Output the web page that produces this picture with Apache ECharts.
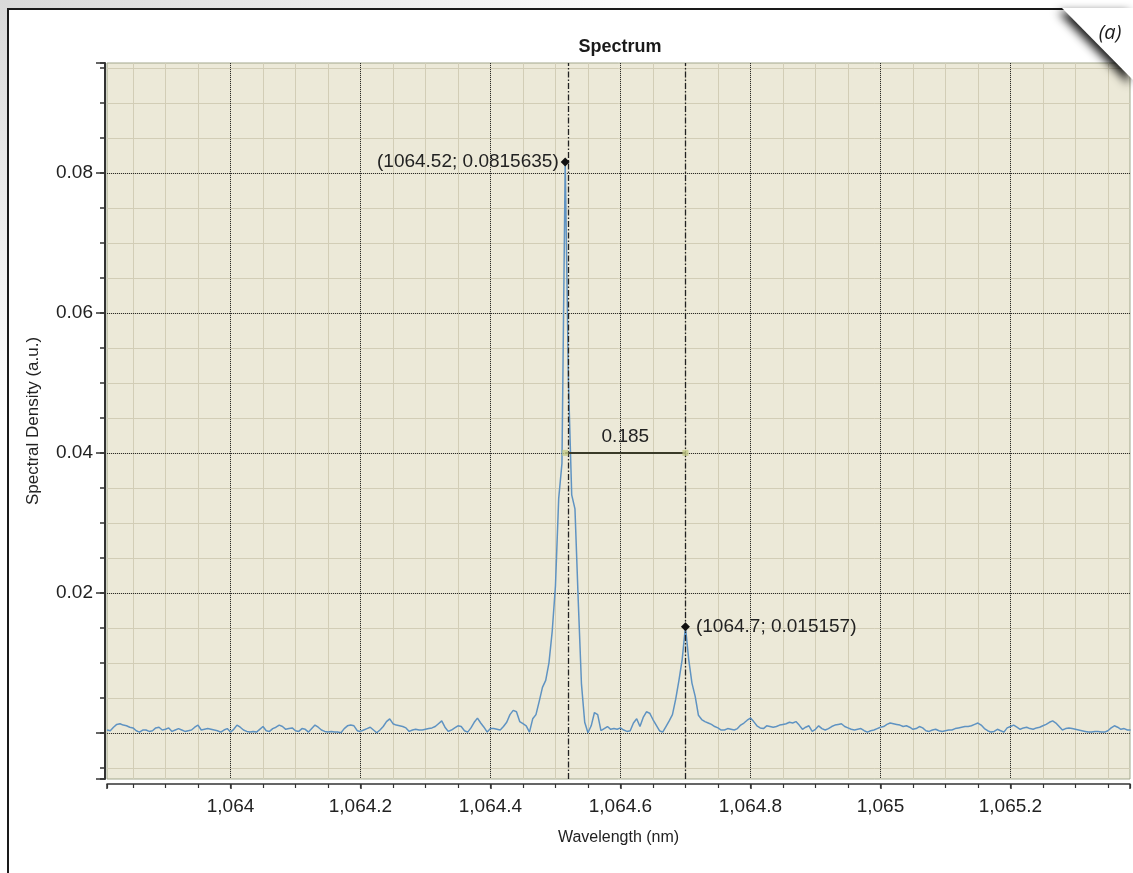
<!DOCTYPE html>
<html><head><meta charset="utf-8">
<script src="https://cdn.jsdelivr.net/npm/echarts@6/dist/echarts.min.js"></script>
<style>html,body{margin:0;padding:0;background:#fff}#c{width:1133px;height:873px}</style>
</head><body><div id="c"></div><script>
// ---- data ----
const wavelengthStart = 1063.81;   // nm, first sample
const wavelengthStep = 0.005;      // nm, sampling step of the spectrometer
const spectralDensity = [
0.0004,0.0003,0.0008,0.0012,0.0013,0.0011,0.0010,0.0008,0.0007,0.0003,
0.0001,0.0004,0.0004,0.0002,0.0003,0.0007,0.0008,0.0004,0.0005,0.0007,
0.0002,0.0004,0.0006,0.0004,0.0002,0.0003,0.0004,0.0008,0.0011,0.0004,
0.0005,0.0006,0.0005,0.0004,0.0003,0.0001,0.0004,0.0006,0.0001,0.0005,
0.0011,0.0008,0.0004,0.0002,0.0001,0.0002,0.0001,0.0005,0.0009,0.0003,
0.0002,0.0006,0.0008,0.0011,0.0009,0.0005,0.0006,0.0007,0.0003,0.0002,
0.0006,0.0005,0.0001,0.0006,0.0011,0.0008,0.0004,0.0002,0.0001,0.0002,
0.0001,0.0001,0.0000,0.0006,0.0010,0.0011,0.0010,0.0003,0.0002,0.0004,
0.0006,0.0008,0.0004,0.0000,0.0004,0.0009,0.0016,0.0020,0.0013,0.0011,
0.0010,0.0009,0.0007,0.0002,0.0004,0.0005,0.0004,0.0004,0.0005,0.0006,
0.0007,0.0009,0.0013,0.0017,0.0008,0.0002,0.0004,0.0007,0.0010,0.0009,
0.0003,0.0001,0.0007,0.0015,0.0021,0.0014,0.0008,0.0001,0.0006,0.0006,
0.0005,0.0004,0.0009,0.0015,0.0026,0.0032,0.0030,0.0016,0.0013,0.0010,
0.0001,0.0020,0.0026,0.0045,0.0065,0.0075,0.0100,0.0145,0.0210,0.0335,
0.0385,0.0815635,0.0500,0.0340,0.0320,0.0190,0.0070,0.0015,0.0000,0.0010,
0.0029,0.0026,0.0003,0.0006,0.0009,0.0005,0.0006,0.0005,0.0007,0.0004,
0.0002,0.0003,0.0014,0.0020,0.0009,0.0022,0.0030,0.0028,0.0019,0.0011,
0.0003,0.0001,0.0009,0.0017,0.0026,0.0048,0.0075,0.0105,0.015157,0.0105,
0.0071,0.0052,0.0025,0.0019,0.0016,0.0014,0.0012,0.0009,0.0007,0.0004,
0.0004,0.0006,0.0005,0.0004,0.0006,0.0011,0.0014,0.0018,0.0021,0.0016,
0.0010,0.0007,0.0006,0.0010,0.0009,0.0008,0.0009,0.0011,0.0012,0.0013,
0.0015,0.0014,0.0016,0.0011,0.0005,0.0008,0.0010,0.0002,0.0005,0.0010,
0.0006,0.0004,0.0006,0.0009,0.0011,0.0012,0.0013,0.0009,0.0007,0.0005,
0.0004,0.0005,0.0006,0.0003,0.0001,0.0003,0.0004,0.0006,0.0008,0.0009,
0.0012,0.0014,0.0013,0.0012,0.0011,0.0009,0.0010,0.0008,0.0005,0.0006,
0.0009,0.0007,0.0003,0.0002,0.0004,0.0005,0.0003,0.0002,0.0003,0.0004,
0.0004,0.0006,0.0007,0.0008,0.0009,0.0009,0.0010,0.0012,0.0014,0.0011,
0.0006,0.0003,0.0001,0.0002,0.0005,0.0003,0.0001,0.0007,0.0009,0.0011,
0.0008,0.0005,0.0007,0.0008,0.0006,0.0005,0.0007,0.0008,0.0010,0.0012,
0.0015,0.0017,0.0014,0.0009,0.0004,0.0006,0.0007,0.0006,0.0005,0.0004,
0.0003,0.0002,0.0001,0.0001,0.0002,0.0002,0.0001,0.0001,0.0003,0.0007,
0.0010,0.0008,0.0005,0.0006,0.0004,0.0004
];
const peakWavelengths = [1064.515, 1064.70];
const peakValues = [0.0815635, 0.015157];
const peakLabels = ['(1064.52; 0.0815635)', '(1064.7; 0.015157)'];
const separationLevel = 0.04;
const separationLabel = '0.185';
const titleText = 'Spectrum';
const xAxisName = 'Wavelength (nm)';
const yAxisName = 'Spectral Density (a.u.)';
const panelLabel = '(a)';
const xRange = [1063.81, 1065.384];
const yRange = [-0.0066, 0.0957];
const xMajor = 0.2, xMinor = 0.05, yMajor = 0.02, yMinor = 0.005;

// ---- chart ----
const wavelengths = spectralDensity.map((_, i) => +(wavelengthStart + i * wavelengthStep).toFixed(3));
const seriesData = wavelengths.map((w, i) => [w, spectralDensity[i]]);
const FONT = '"Liberation Sans", Arial, Helvetica, sans-serif';
const isMult = (v, step) => Math.abs(v / step - Math.round(v / step)) < 1e-6;
const fmtX = v => v.toLocaleString('en-US', {maximumFractionDigits: 1});

const chart = echarts.init(document.getElementById('c'), null, {renderer: 'canvas'});
const minorLine = '#D2CDB6';
const axisDark = '#333';
const gridDotted = {color: '#2b2b2b', type: 'dotted', width: 1};

chart.setOption({
  animation: false,
  backgroundColor: '#ffffff',
  grid: {left: 107, top: 63, right: 0, bottom: 94, show: true,
         backgroundColor: '#ECE9D8', borderColor: '#A2A78C', borderWidth: 1},
  xAxis: [
    {type: 'value', position: 'bottom', min: xRange[0], max: xRange[1],
     minInterval: xMinor, maxInterval: xMinor, offset: 5, z: 0,
     axisLine: {show: false, onZero: false}, axisLabel: {show: false},
     axisTick: {show: true, length: 4, lineStyle: {color: axisDark, width: 1.2}},
     splitLine: {show: true, showMinLine: false, showMaxLine: false, lineStyle: {color: minorLine, width: 1}}},
    {type: 'value', position: 'bottom', min: xRange[0], max: xRange[1],
     minInterval: xMajor, maxInterval: xMajor, offset: 5, z: 1,
     name: xAxisName, nameLocation: 'middle', nameGap: 46,
     nameTextStyle: {fontFamily: FONT, fontSize: 16, color: '#222'},
     axisLine: {show: true, onZero: false, lineStyle: {color: axisDark, width: 1.5}},
     axisTick: {show: true, length: 5, lineStyle: {color: axisDark, width: 1.5}},
     axisLabel: {margin: 13, fontSize: 19, color: '#222', fontFamily: FONT,
                 showMinLabel: true, showMaxLabel: true,
                 formatter: v => isMult(v, xMajor) ? fmtX(v) : ''},
     splitLine: {show: true, showMinLine: false, showMaxLine: false, lineStyle: gridDotted}}
  ],
  yAxis: [
    {type: 'value', position: 'left', min: yRange[0], max: yRange[1],
     minInterval: yMinor, maxInterval: yMinor, offset: 2, z: 0,
     axisLine: {show: false, onZero: false}, axisLabel: {show: false},
     axisTick: {show: true, length: 5, lineStyle: {color: axisDark, width: 1.5}},
     splitLine: {show: true, showMinLine: false, showMaxLine: false, lineStyle: {color: minorLine, width: 1}}},
    {type: 'value', position: 'left', min: yRange[0], max: yRange[1],
     minInterval: yMajor, maxInterval: yMajor, offset: 2, z: 1,
     name: yAxisName, nameLocation: 'middle', nameGap: 63,
     nameTextStyle: {fontFamily: FONT, fontSize: 17, color: '#222'},
     axisLine: {show: true, onZero: false, lineStyle: {color: axisDark, width: 2}},
     axisTick: {show: true, length: 9, lineStyle: {color: axisDark, width: 1.5}},
     axisLabel: {margin: 12, fontSize: 19, color: '#222', fontFamily: FONT,
                 formatter: v => (isMult(v, yMajor) && Math.abs(v) > 1e-9) ? v.toFixed(2) : ''},
     splitLine: {show: true, showMinLine: false, showMaxLine: false, lineStyle: gridDotted}}
  ],
  series: [
    {type: 'line', xAxisIndex: 1, yAxisIndex: 1, data: seriesData,
     showSymbol: false, symbol: 'none', clip: true, z: 3,
     lineStyle: {color: '#5F93C2', width: 1.5},
     markLine: {
       silent: true, symbol: 'none', animation: false,
       lineStyle: {color: '#222', type: [6, 2, 1.5, 2], width: 1.3},
       label: {show: false},
       data: [
         {xAxis: peakWavelengths[0]},
         {xAxis: peakWavelengths[1]},
         [{coord: [peakWavelengths[0], separationLevel],
           lineStyle: {type: 'solid', color: '#3A3A28', width: 2},
           label: {show: true, position: 'middle', formatter: separationLabel, distance: 7,
                   fontFamily: FONT, fontSize: 19, color: '#222'}},
          {coord: [peakWavelengths[1], separationLevel]}]
       ]
     },
     markPoint: {
       symbol: 'diamond', symbolSize: 9, itemStyle: {color: '#111'}, animation: false,
       data: peakWavelengths.map((w, i) => ({
         coord: [w, peakValues[i]],
         label: {show: true, formatter: peakLabels[i], position: i === 0 ? 'left' : 'right',
                 distance: i === 0 ? 2 : 6, fontFamily: FONT, fontSize: 19, color: '#222'}
       }))
     }},
    {type: 'scatter', xAxisIndex: 1, yAxisIndex: 1, z: 5, silent: true,
     data: peakWavelengths.map(w => [w, separationLevel]),
     symbol: 'rect', symbolSize: 6, itemStyle: {color: '#C4CA88'}}
  ],
  graphic: [
    {type: 'rect', z: 50, silent: true, shape: {x: 0, y: 0, width: 700, height: 8},
     style: {fill: new echarts.graphic.LinearGradient(0, 0, 1, 0, [{offset: 0, color: '#d9d9d9'}, {offset: 1, color: '#ffffff'}])}},
    {type: 'rect', z: 50, silent: true, shape: {x: 0, y: 0, width: 7, height: 420},
     style: {fill: new echarts.graphic.LinearGradient(0, 0, 0, 1, [{offset: 0, color: '#d9d9d9'}, {offset: 1, color: '#ffffff'}])}},
    {type: 'polyline', z: 60, silent: true, shape: {points: [[8, 873], [8, 9], [1066, 9]]},
     style: {stroke: '#1a1a1a', lineWidth: 2, fill: null}},
    {type: 'polygon', z: 70, silent: true, shape: {points: [[1062, 8], [1133, 8], [1133, 80]]},
     style: {fill: '#ffffff', shadowBlur: 10, shadowColor: 'rgba(0,0,0,0.9)', shadowOffsetX: -4, shadowOffsetY: 4}},
    {type: 'text', z: 71, silent: true,
     style: {text: panelLabel, x: 1110, y: 33, align: 'center', verticalAlign: 'middle',
             font: 'italic 20px "Open Sans", Lato, sans-serif', fill: '#1a1a1a'}},
    {type: 'text', z: 71, silent: true,
     style: {text: titleText, x: 620, y: 47, align: 'center', verticalAlign: 'middle',
             font: 'bold 18px "Liberation Sans", Arial, sans-serif', fill: '#1a1a1a'}}
  ]
});
</script></body></html>
